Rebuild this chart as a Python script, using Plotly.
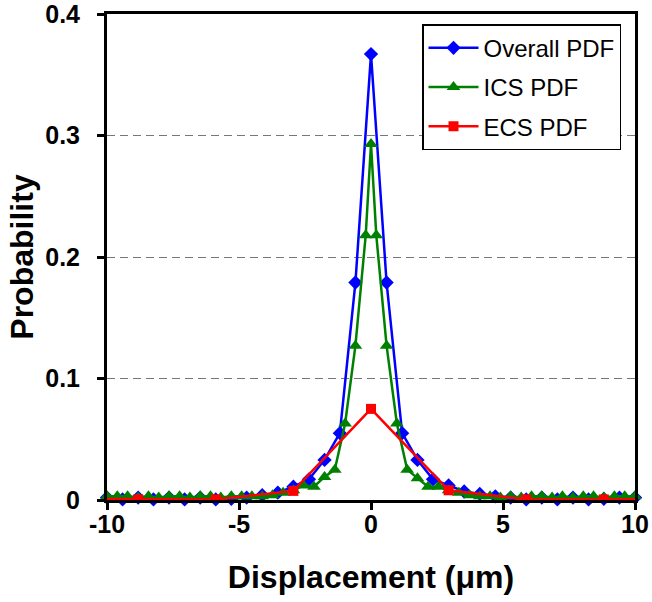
import plotly.graph_objects as go

# ---------------- data ----------------
overall_x = [-10.0, -9.41, -8.82, -8.24, -7.65, -7.06, -6.47, -5.88, -5.29, -4.71, -4.12, -3.53, -2.94, -2.35, -1.76, -1.18, -0.59,
             0.0,
             0.59, 1.18, 1.76, 2.35, 2.94, 3.53, 4.12, 4.71, 5.29, 5.88, 6.47, 7.06, 7.65, 8.24, 8.82, 9.41, 10.0]
overall_y = [0.002, 0.0005, 0.002, 0.0005, 0.002, 0.0005, 0.002, 0.0005, 0.001, 0.002, 0.004, 0.006, 0.011, 0.017, 0.033, 0.055, 0.179,
             0.367,
             0.179, 0.055, 0.033, 0.017, 0.012, 0.007, 0.005, 0.003, 0.002, 0.0005, 0.002, 0.0005, 0.002, 0.0005, 0.001, 0.002, 0.002]

ics_x = [-10.0, -9.61, -9.22, -8.82, -8.43, -8.04, -7.65, -7.25, -6.86, -6.47, -6.08, -5.69, -5.29, -4.90, -4.51, -4.12, -3.73,
         -3.33, -2.94, -2.55, -2.16, -1.76, -1.37, -0.98, -0.59, -0.20,
         0.0,
         0.20, 0.59, 0.98, 1.37, 1.76, 2.16, 2.55, 2.94, 3.33, 3.73, 4.12, 4.51, 4.90, 5.29, 5.69, 6.08, 6.47, 6.86,
         7.25, 7.65, 8.04, 8.43, 8.82, 9.22, 9.61, 10.0]
ics_y = [0.003, 0.003, 0.003, 0.002, 0.003, 0.002, 0.003, 0.003, 0.002, 0.003, 0.003, 0.002, 0.003, 0.003, 0.003, 0.003, 0.004,
         0.006, 0.008, 0.012, 0.011, 0.019, 0.025, 0.063, 0.127, 0.218,
         0.293,
         0.218, 0.127, 0.063, 0.025, 0.018, 0.011, 0.011, 0.008, 0.006, 0.004, 0.003, 0.003, 0.002, 0.003, 0.002, 0.003, 0.003, 0.002,
         0.003, 0.002, 0.003, 0.003, 0.002, 0.003, 0.003, 0.003]

ecs_x = [-11.76, -8.82, -5.88, -2.94, 0.0, 2.94, 5.88, 8.82, 11.76]
ecs_y = [0.001, 0.0005, 0.0005, 0.0075, 0.075, 0.008, 0.0005, 0.0005, 0.001]

x_ticks = [-10, -5, 0, 5, 10]
x_tick_labels = ["-10", "-5", "0", "5", "10"]
y_ticks = [0, 0.1, 0.2, 0.3, 0.4]
y_tick_labels = ["0", "0.1", "0.2", "0.3", "0.4"]

FONT = "Arial, 'Liberation Sans', sans-serif"

fig = go.Figure()
fig.add_trace(go.Scatter(
    x=overall_x, y=overall_y, name="Overall PDF", mode="lines+markers",
    line=dict(color="#0000FF", width=2.5),
    marker=dict(symbol="diamond", size=11, color="#0000FF"),
    cliponaxis=False, legendgroup="a"))
fig.add_trace(go.Scatter(
    x=ics_x, y=ics_y, name="ICS PDF", mode="lines+markers",
    line=dict(color="#008000", width=2.5),
    marker=dict(symbol="triangle-up", size=12, color="#008000"),
    cliponaxis=False, legendgroup="b"))
fig.add_trace(go.Scatter(
    x=ecs_x, y=ecs_y, name="ECS PDF", mode="lines+markers",
    line=dict(color="#FF0000", width=2.5),
    marker=dict(symbol="square", size=10, color="#FF0000"),
    cliponaxis=True, legendgroup="c"))

fig.update_layout(
    width=652, height=602,
    margin=dict(l=107, r=17, t=14, b=102),
    plot_bgcolor="white", paper_bgcolor="white",
    font=dict(family=FONT, color="black"),
    showlegend=True,
    legend=dict(
        x=0.9735, y=0.979, xanchor="right", yanchor="top",
        bgcolor="white", bordercolor="black", borderwidth=1.5,
        font=dict(size=24, family=FONT, color="black"),
        tracegroupgap=5, itemwidth=50,
    ),
    xaxis=dict(
        range=[-10, 10], tickmode="array", tickvals=x_ticks, ticktext=x_tick_labels,
        showgrid=False, zeroline=False, automargin=False,
        showline=True, linecolor="black", linewidth=3, mirror=True,
        ticks="outside", ticklen=7, tickwidth=2.5, tickcolor="black",
        ticklabelstandoff=-7, ticklabeloverflow="allow",
        tickfont=dict(size=25, family=FONT, color="black", weight="bold"),
        title=dict(text="Displacement (\u03bcm)", standoff=29,
                   font=dict(size=32, family=FONT, color="black", weight="bold")),
    ),
    yaxis=dict(
        range=[0, 0.40001], tickmode="array", tickvals=y_ticks, ticktext=y_tick_labels,
        showgrid=True, gridcolor="#777777", gridwidth=1.2, griddash="8px,5px",
        zeroline=False, automargin=False,
        showline=True, linecolor="black", linewidth=3, mirror=True,
        ticks="outside", ticklen=7, tickwidth=2.5, tickcolor="black",
        ticklabelstandoff=12, ticklabeloverflow="allow",
        tickfont=dict(size=25, family=FONT, color="black", weight="bold"),
        title=dict(text="Probability", standoff=3,
                   font=dict(size=32, family=FONT, color="black", weight="bold")),
    ),
)

fig.write_html("out.html")
